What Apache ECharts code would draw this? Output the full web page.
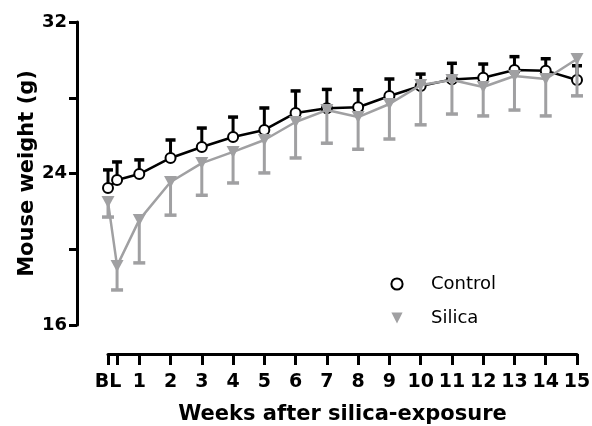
<!DOCTYPE html>
<html>
<head>
<meta charset="utf-8">
<script src="https://cdn.jsdelivr.net/npm/echarts@6/dist/echarts.min.js"></script>
<style>
	html, body { margin: 0; padding: 0; background: #fff; }
	#chart { width: 592px; height: 426px; }
</style>
</head>
<body>
<div id="chart"></div>
<script>
	// weeks after exposure, BL has two measurements
	var weeks = [0, 0.29, 1, 2, 3, 4, 5, 6, 7, 8, 9, 10, 11, 12, 13, 14, 15];
	var tickLabels = ['BL', '1', '2', '3', '4', '5', '6', '7', '8', '9', '10', '11', '12', '13', '14', '15'];
	var yLabelValues = [16, 24, 32];
	var yTickValues = [16, 20, 24, 28, 32];

	var controlMean = [23.24, 23.66, 23.97, 24.82, 25.40, 25.93, 26.30, 27.20, 27.44, 27.50, 28.09, 28.62, 28.97, 29.06, 29.47, 29.43, 28.94];
	var controlSD = [0.95, 0.95, 0.75, 0.95, 1.0, 1.05, 1.16, 1.16, 1.0, 0.92, 0.9, 0.63, 0.85, 0.72, 0.7, 0.63, 0.75];
	var silicaMean = [22.5, 19.12, 21.55, 23.55, 24.55, 25.14, 25.77, 26.72, 27.35, 26.98, 27.67, 28.67, 28.94, 28.57, 29.15, 28.99, 30.05];
	var silicaSD = [0.8, 1.27, 2.27, 1.75, 1.7, 1.64, 1.74, 1.9, 1.75, 1.7, 1.85, 2.1, 1.8, 1.53, 1.8, 1.95, 1.95];

	var black = '#000';
	var grey = '#a0a0a2';
	var font = 'DejaVu Sans';

	function pairs(mean) {
		return weeks.map(function(w, i) { return [w, mean[i]]; });
	}
	function triples(mean, sd) {
		return weeks.map(function(w, i) { return [w, mean[i], sd[i]]; });
	}
	/*-----error bars (one-sided)-----*/
	function errorBar(dir, color, capHalf) {
		return function(params, api) {
			var x = api.value(0), y = api.value(1), e = api.value(2);
			var p0 = api.coord([x, y]);
			var p1 = api.coord([x, y + dir * e]);
			return {
				type: 'group',
				children: [{
					type: 'line',
					shape: { x1: p0[0], y1: p0[1], x2: p1[0], y2: p1[1] },
					style: { stroke: color, lineWidth: 3 }
				}, {
					type: 'line',
					shape: { x1: p1[0] - capHalf, y1: p1[1], x2: p1[0] + capHalf, y2: p1[1] },
					style: { stroke: color, lineWidth: 3.5 }
				}]
			};
		};
	}

	var chart = echarts.init(document.getElementById('chart'));
	var option = {
		animation: false,
		grid: {
			left: 108,
			right: 15,
			top: 22,
			bottom: 101,
			containLabel: false,
			outerBoundsMode: 'none'
		},
		legend: {
			orient: 'vertical',
			left: 362,
			top: 270,
			itemWidth: 58,
			itemHeight: 14,
			itemGap: 16,
			data: ['Control', 'Silica'],
			lineStyle: { opacity: 0 },
			textStyle: {
				fontFamily: font,
				fontSize: 18,
				color: '#000'
			}
		},
		xAxis: {
			type: 'value',
			min: 0,
			max: 15,
			interval: 1,
			offset: 29,
			name: 'Weeks after silica-exposure',
			nameLocation: 'middle',
			nameGap: 50,
			nameTextStyle: {
				fontFamily: font,
				fontWeight: 'bold',
				fontSize: 21,
				color: '#000'
			},
			axisLine: { show: true, onZero: false, lineStyle: { color: black, width: 3 } },
			axisTick: { show: true, length: 11, customValues: weeks, lineStyle: { color: black, width: 3 } },
			axisLabel: {
				margin: 19,
				fontFamily: font,
				fontWeight: 'bold',
				fontSize: 19,
				color: '#000',
				formatter: function(v) { return tickLabels[Math.round(v)]; }
			},
			splitLine: { show: false }
		},
		yAxis: {
			type: 'value',
			min: 16,
			max: 32,
			interval: 4,
			offset: 31,
			name: 'Mouse weight (g)',
			nameLocation: 'middle',
			nameGap: 39,
			nameMoveOverlap: false,
			nameTextStyle: {
				fontFamily: font,
				fontWeight: 'bold',
				fontSize: 21,
				color: '#000'
			},
			axisLine: { show: true, onZero: false, lineStyle: { color: black, width: 3 } },
			axisTick: { show: true, length: 8, customValues: yTickValues, lineStyle: { color: black, width: 3 } },
			axisLabel: {
				margin: 10,
				customValues: yLabelValues,
				fontFamily: font,
				fontWeight: 'bold',
				fontSize: 18,
				color: '#000'
			},
			splitLine: { show: false }
		},
		series: [{
			name: 'Control SD',
			type: 'custom',
			renderItem: errorBar(1, black, 5),
			encode: { x: 0, y: 1 },
			data: triples(controlMean, controlSD),
			z: 1
		}, {
			name: 'Control',
			type: 'line',
			data: pairs(controlMean),
			symbol: 'emptyCircle',
			symbolSize: 10,
			showAllSymbol: true,
			lineStyle: { color: black, width: 2.5 },
			itemStyle: { color: black, borderColor: black, borderWidth: 2.5 },
			z: 2
		}, {
			name: 'Silica SD',
			type: 'custom',
			renderItem: errorBar(-1, grey, 6),
			encode: { x: 0, y: 1 },
			data: triples(silicaMean, silicaSD),
			z: 3
		}, {
			name: 'Silica',
			type: 'line',
			data: pairs(silicaMean),
			symbol: 'triangle',
			symbolRotate: 180,
			symbolSize: [13, 12],
			showAllSymbol: true,
			lineStyle: { color: grey, width: 2.5 },
			itemStyle: { color: grey, borderWidth: 0 },
			z: 4
		}]
	};
	chart.setOption(option);
</script>
</body>
</html>
